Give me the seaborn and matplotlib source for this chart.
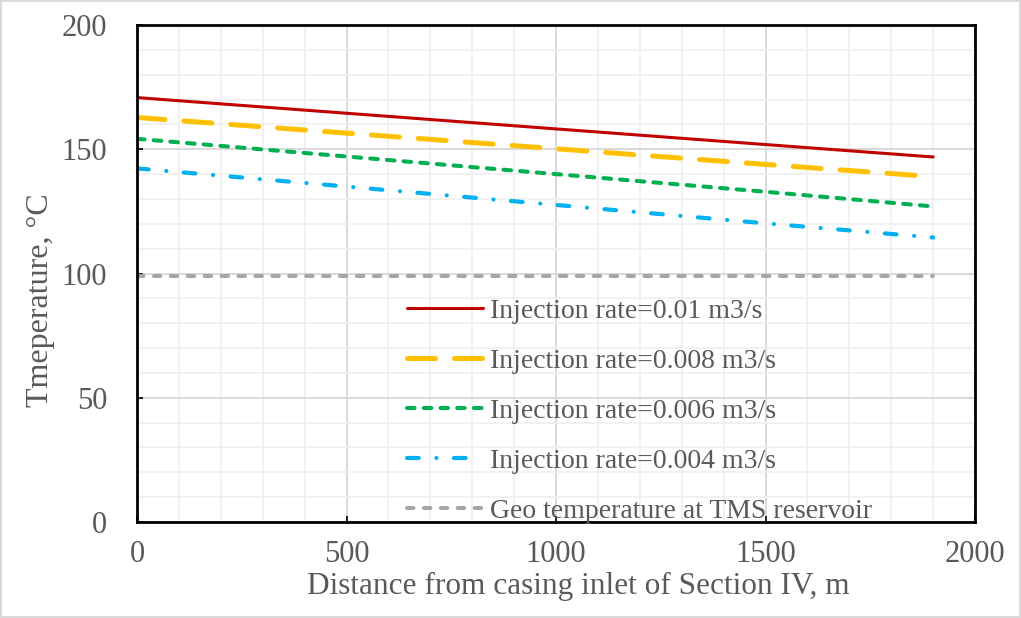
import numpy as np
import pandas as pd
import seaborn as sns
import matplotlib.pyplot as plt
from matplotlib.ticker import MultipleLocator

sns.set_theme(style="white")
plt.rcParams['font.family'] = ['Liberation Serif', 'DejaVu Serif']

# Distance along Section IV (m) and temperature profiles (°C)
distance = [0, 500, 1000, 1500, 1900]
temp_q010 = [170.8, 164.5, 158.2, 151.9, 146.9]
temp_q008 = [162.8, 156.5, 150.2, 143.9, 139.0]
temp_q006 = [154.2, 147.1, 140.0, 132.9, 127.0]
temp_q004 = [142.3, 135.0, 127.6, 120.2, 114.5]
geo_temp = [99.0, 99.0, 99.0, 99.0, 99.0]

labels = ["Injection rate=0.01 m3/s",
          "Injection rate=0.008 m3/s",
          "Injection rate=0.006 m3/s",
          "Injection rate=0.004 m3/s",
          "Geo temperature at TMS reservoir"]

series = [temp_q010, temp_q008, temp_q006, temp_q004, geo_temp]
colors = ["#c00000", "#ffc000", "#00b050", "#00b0f0", "#a6a6a6"]
widths = [2.2, 3.6, 2.9, 3.0, 2.9]
dash_styles = [None, (5.6, 3.8), (1.9, 2.25), (2.8, 4.25, 0.01, 4.2), (1.6, 2.6)]

fig = plt.figure(figsize=(10.21, 6.18), dpi=100)
fig.patch.set_edgecolor("#d9d9d9")
fig.patch.set_linewidth(1.5)
ax = fig.add_axes([0.1342, 0.1553, 0.8208, 0.8042])

for vals, lab, col, lw, ds in zip(series, labels, colors, widths, dash_styles):
    df = pd.DataFrame({"Distance": distance, "Temperature": vals})
    sns.lineplot(data=df, x="Distance", y="Temperature", ax=ax,
                 color=col, linewidth=lw, label=lab)
    l = ax.get_lines()[-1]
    if ds is not None:
        l.set_dashes(ds)
        l.set_dash_capstyle("round")

ax.set_xlim(0, 2000)
ax.set_ylim(0, 200)
ax.xaxis.set_major_locator(MultipleLocator(500))
ax.xaxis.set_minor_locator(MultipleLocator(100))
ax.yaxis.set_major_locator(MultipleLocator(50))
ax.yaxis.set_minor_locator(MultipleLocator(10))

ax.grid(which="minor", color="#efefef", linewidth=1.2)
ax.grid(which="major", color="#d9d9d9", linewidth=1.4)
ax.set_axisbelow(True)

for sp in ax.spines.values():
    sp.set_color("black")
    sp.set_linewidth(2.0)

ax.tick_params(axis="both", which="major", direction="in", length=4,
               width=1.2, color="black", labelsize=22, labelcolor="#595959")
ax.tick_params(axis="x", which="major", pad=13, top=False, bottom=True)
ax.tick_params(axis="y", which="major", pad=21.5, left=True, right=False)
ax.tick_params(which="minor", length=0)

ax.set_xlabel("Distance from casing inlet of Section IV, m", fontsize=22.5,
              color="#595959")
ax.set_ylabel("Tmeperature, °C", fontsize=23, color="#595959")
ax.xaxis.set_label_coords(0.526, -0.1)
ax.yaxis.set_label_coords(-0.098, 0.447)

ax.legend(loc="upper left", bbox_to_anchor=(0.322, 0.45), frameon=False,
          fontsize=20, labelcolor="#595959", handlelength=2.73,
          handletextpad=0.25, labelspacing=0.885, borderpad=0,
          borderaxespad=0)

fig.savefig("out.png", dpi=100)
